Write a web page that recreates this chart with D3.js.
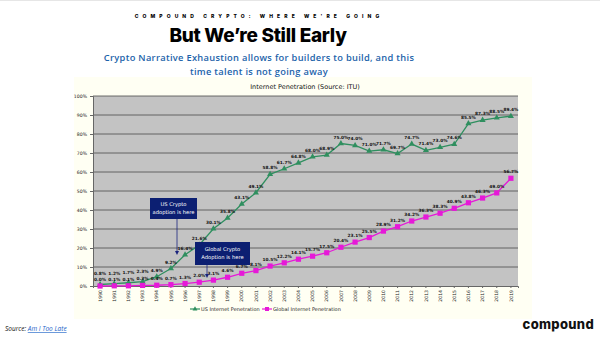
<!DOCTYPE html>
<html><head><meta charset="utf-8">
<script src="https://cdn.jsdelivr.net/npm/d3@7"></script>
<style>
html,body{margin:0;padding:0;background:#fff;}
svg{display:block;}
</style></head>
<body>
<svg id="c" width="600" height="341"></svg>
<script>
const years = d3.range(1990, 2020).map(String);
const usValues = [0.8,1.2,1.7,2.3,4.9,9.2,16.4,21.6,30.1,35.8,43.1,49.1,58.8,61.7,64.8,68.0,68.9,75.0,74.0,71.0,71.7,69.7,74.7,71.4,73.0,74.6,85.5,87.3,88.5,89.4];
const globalValues = [0.0,0.1,0.1,0.3,0.4,0.7,1.3,2.0,3.1,4.6,6.7,8.1,10.5,12.2,14.1,15.7,17.5,20.4,23.1,25.5,28.9,31.2,34.2,36.3,38.3,40.9,43.8,46.3,49.0,56.7];
const yTicks = [0,10,20,30,40,50,60,70,80,90,100];
const seriesNames = ["US Internet Penetration","Global Internet Penetration"];

const svg = d3.select("#c");
const green = "#2f8f5f", magenta = "#e619d8";

// header
svg.append("line").attr("x1",0).attr("x2",600).attr("y1",0.5).attr("y2",0.5).attr("stroke","#e6e6e6");
svg.append("text").attr("x",259).attr("y",18).attr("text-anchor","middle")
  .style("font-family","Inter, 'DejaVu Sans', sans-serif").style("font-weight","800").style("font-size","5px")
  .style("letter-spacing","4.1px").text("COMPOUND CRYPTO: WHERE WE'RE GOING");
svg.append("text").attr("x",258).attr("y",42).attr("text-anchor","middle")
  .style("font-family","Inter, 'Open Sans', sans-serif").style("font-weight","800").style("font-size","19px")
  .style("letter-spacing","-0.3px").text("But We\u2019re Still Early");
const sub = svg.append("text").attr("text-anchor","middle")
  .style("font-family","'Open Sans', 'Noto Sans', sans-serif").style("font-weight","600").style("font-size","9.3px")
  .style("letter-spacing","0.3px").attr("fill","#1c63aa");
sub.append("tspan").attr("x",259).attr("y",61).text("Crypto Narrative Exhaustion allows for builders to build, and this");
sub.append("tspan").attr("x",259).attr("y",75).text("time talent is not going away");

// chart background
svg.append("rect").attr("x",74).attr("y",77).attr("width",458).attr("height",242).attr("fill","#fffff3");
svg.append("text").attr("x",305).attr("y",89).attr("text-anchor","middle")
  .style("font-family","'DejaVu Sans', sans-serif").style("font-size","6.5px").attr("fill","#111")
  .text("Internet Penetration (Source: ITU)");

const x = d3.scaleBand().domain(years).range([93,518]);
const y = d3.scaleLinear().domain([0,100]).range([286,96]);
const cx = d => x(d) + x.bandwidth()/2;

svg.append("rect").attr("x",93).attr("y",96).attr("width",425).attr("height",190).attr("fill","#c3c3c3");
svg.append("g").selectAll("line").data(yTicks.filter(t=>t>0)).join("line")
  .attr("x1",93).attr("x2",518).attr("y1",d=>y(d)).attr("y2",d=>y(d)).attr("stroke","#4a4a4a").attr("stroke-width",0.8);

const yAxis = svg.append("g").attr("transform","translate(93,0)")
  .call(d3.axisLeft(y).tickValues(yTicks).tickSize(3).tickFormat(d=>d+"%"));
yAxis.select(".domain").attr("stroke","#666");
yAxis.selectAll(".tick line").attr("stroke","#666");
yAxis.selectAll("text").style("font-family","'DejaVu Sans', sans-serif").style("font-size","4.6px").attr("fill","#222");

const xAxis = svg.append("g").attr("transform","translate(0,286)")
  .call(d3.axisBottom(x).tickSize(2));
xAxis.select(".domain").attr("stroke","#666");
xAxis.selectAll(".tick line").attr("stroke","#666");
xAxis.selectAll("text").attr("transform","rotate(-90)").attr("text-anchor","end")
  .attr("x",-4).attr("y",0).attr("dy","0.35em")
  .style("font-family","'DejaVu Sans', sans-serif").style("font-size","4.6px").attr("fill","#222");

const line = d3.line().x((d,i)=>cx(years[i])).y(d=>y(d));
svg.append("path").datum(usValues).attr("d",line).attr("fill","none").attr("stroke",green).attr("stroke-width",1.3);
svg.append("path").datum(globalValues).attr("d",line).attr("fill","none").attr("stroke",magenta).attr("stroke-width",1.3);

const tri = d3.symbol().type(d3.symbolTriangle).size(16);
svg.append("g").selectAll("path").data(usValues).join("path")
  .attr("d",tri).attr("transform",(d,i)=>`translate(${cx(years[i])},${y(d)})`).attr("fill",green);
svg.append("g").selectAll("rect").data(globalValues).join("rect")
  .attr("x",(d,i)=>cx(years[i])-2.6).attr("y",d=>y(d)-2.6).attr("width",5.2).attr("height",5.2).attr("fill",magenta);

const lab = (g) => g.style("font-family","'DejaVu Sans', sans-serif").style("font-size","4.3px").style("font-weight","bold")
  .attr("text-anchor","middle").attr("fill","#111");
svg.append("g").selectAll("text").data(usValues).join("text").call(lab)
  .attr("x",(d,i)=>cx(years[i])).attr("y",(d,i)=> i<4 ? y(d)-9 : y(d)-5).text(d=>d.toFixed(1)+"%");
svg.append("g").selectAll("text").data(globalValues).join("text").call(lab)
  .attr("x",(d,i)=>cx(years[i])).attr("y",(d,i)=> y(d)-5).text(d=>d.toFixed(1)+"%");

// annotations
function note(bx, by, bw, bh, lines, ax, ay1, ay2){
  svg.append("line").attr("x1",ax).attr("x2",ax).attr("y1",ay1).attr("y2",ay2-3).attr("stroke","#1a237e").attr("stroke-width",0.8);
  svg.append("path").attr("d",`M${ax-2},${ay2-4}L${ax+2},${ay2-4}L${ax},${ay2}Z`).attr("fill","#1a237e");
  svg.append("rect").attr("x",bx).attr("y",by).attr("width",bw).attr("height",bh).attr("fill","#0c1f72");
  const t = svg.append("text").attr("text-anchor","middle").attr("fill","#fff")
    .style("font-family","'DejaVu Sans', sans-serif").style("font-size","5.2px");
  lines.forEach((l,k)=>t.append("tspan").attr("x",bx+bw/2).attr("y",by+bh/2-3+k*8.5).text(l));
}
note(150, 198, 47, 21, ["US Crypto","adoption is here"], 177, 219, 255);
note(195, 242, 55, 23, ["Global Crypto","Adoption is here"], 207, 265, 278);

// legend
const lg = svg.append("g");
[[190,green,"tri"],[262,magenta,"sq"]].forEach((it,k)=>{
  lg.append("line").attr("x1",it[0]).attr("x2",it[0]+10).attr("y1",309).attr("y2",309).attr("stroke",it[1]).attr("stroke-width",1.2);
  if(it[2]==="tri") lg.append("path").attr("d",d3.symbol().type(d3.symbolTriangle).size(10)).attr("transform",`translate(${it[0]+5},309)`).attr("fill",it[1]);
  else lg.append("rect").attr("x",it[0]+3).attr("y",307).attr("width",4).attr("height",4).attr("fill",it[1]);
  lg.append("text").attr("x",it[0]+11).attr("y",311).style("font-family","'DejaVu Sans', sans-serif").style("font-size","5px").attr("fill","#222").text(seriesNames[k]);
});

// footer
const src = svg.append("text").attr("x",5).attr("y",331).style("font-family","'Open Sans', sans-serif").style("font-size","6.5px").style("font-style","italic");
src.append("tspan").attr("fill","#111").text("Source: ");
src.append("tspan").attr("fill","#1c63c8").style("text-decoration","underline").text("Am I Too Late");
svg.append("text").attr("x",594).attr("y",329).attr("text-anchor","end")
  .style("font-family","Inter, 'DejaVu Sans', sans-serif").style("font-weight","800").style("font-size","13px")
  .style("letter-spacing","0.3px").attr("fill","#111").text("compound");
</script>
</body></html>
